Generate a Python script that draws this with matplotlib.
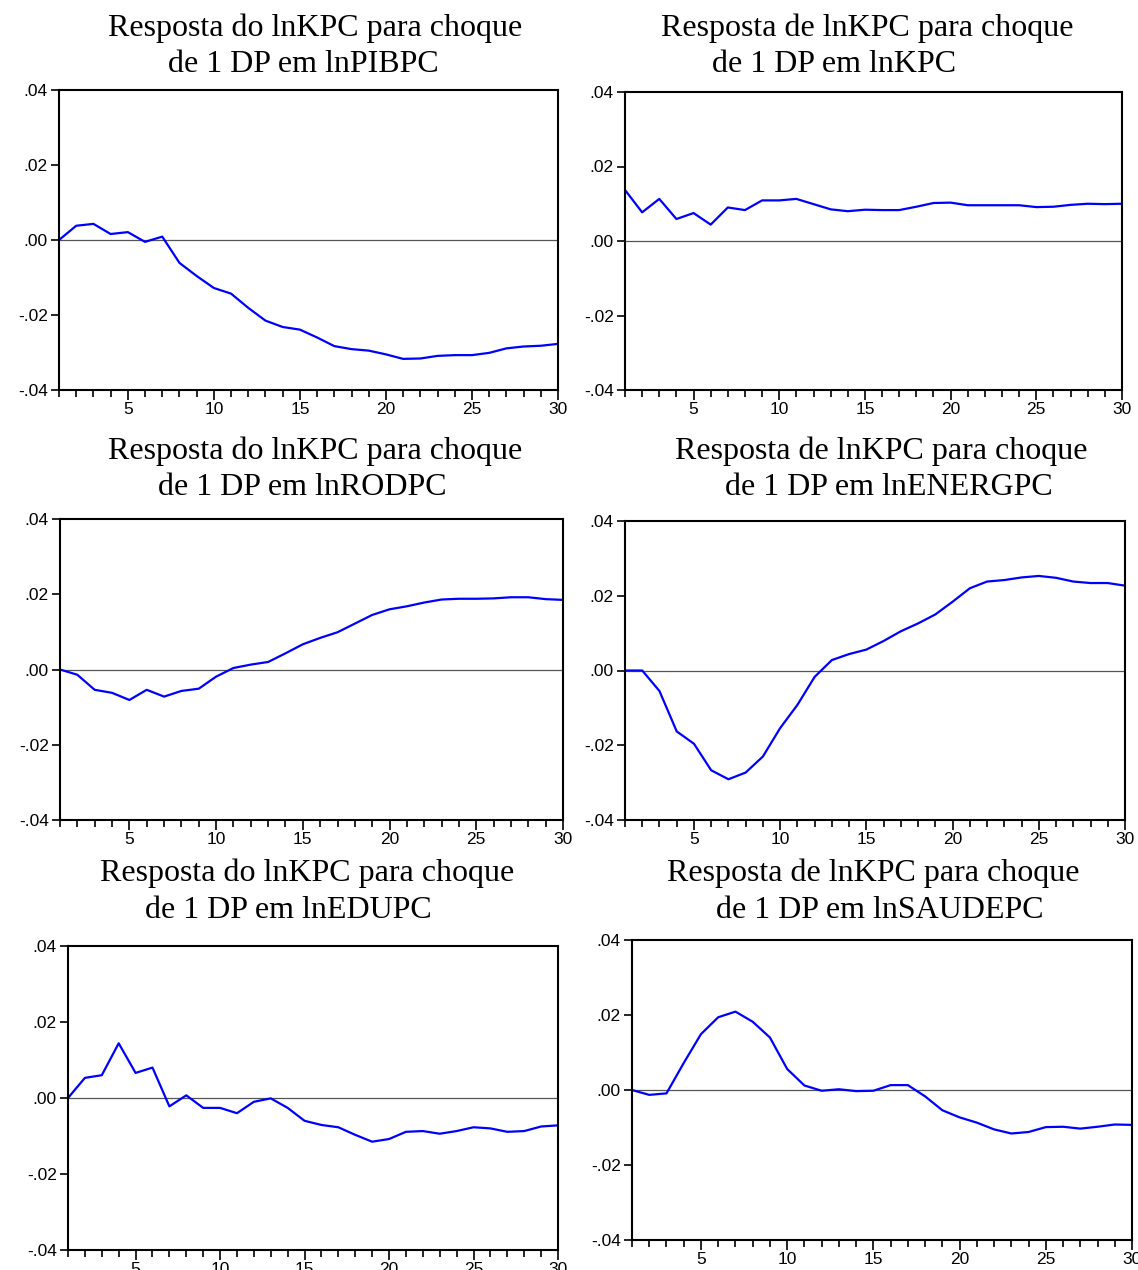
import matplotlib.pyplot as plt
from matplotlib.ticker import MultipleLocator

periods = list(range(1, 31))

pibpc = [0.0, 0.0038, 0.0043, 0.0016, 0.0021, -0.0005, 0.0009, -0.0061, -0.0096, -0.0128,
         -0.0143, -0.0181, -0.0215, -0.0232, -0.0239, -0.0260, -0.0283, -0.0291, -0.0295, -0.0305,
         -0.0317, -0.0316, -0.0309, -0.0307, -0.0307, -0.0301, -0.0289, -0.0284, -0.0282, -0.0277]
kpc = [0.0137, 0.0077, 0.0113, 0.0059, 0.0075, 0.0044, 0.0090, 0.0083, 0.0109, 0.0109,
       0.0113, 0.0099, 0.0085, 0.0080, 0.0084, 0.0083, 0.0083, 0.0092, 0.0102, 0.0103,
       0.0096, 0.0096, 0.0096, 0.0096, 0.0091, 0.0092, 0.0097, 0.0100, 0.0099, 0.0100]
rodpc = [0.0, -0.0014, -0.0054, -0.0062, -0.0081, -0.0054, -0.0072, -0.0057, -0.0051, -0.0019,
         0.0004, 0.0013, 0.0020, 0.0043, 0.0067, 0.0084, 0.0099, 0.0122, 0.0145, 0.0160,
         0.0168, 0.0178, 0.0186, 0.0188, 0.0188, 0.0189, 0.0192, 0.0192, 0.0187, 0.0185]
energpc = [0.0, 0.0, -0.0055, -0.0163, -0.0196, -0.0267, -0.0291, -0.0273, -0.0230, -0.0154,
           -0.0092, -0.0017, 0.0028, 0.0044, 0.0056, 0.0079, 0.0105, 0.0126, 0.0150, 0.0184,
           0.0220, 0.0238, 0.0242, 0.0249, 0.0253, 0.0248, 0.0238, 0.0234, 0.0234, 0.0227]
edupc = [0.0, 0.0053, 0.0060, 0.0144, 0.0066, 0.0080, -0.0022, 0.0007, -0.0026, -0.0026,
         -0.0040, -0.0010, -0.0001, -0.0026, -0.0060, -0.0071, -0.0077, -0.0097, -0.0115, -0.0108,
         -0.0089, -0.0087, -0.0094, -0.0087, -0.0077, -0.0080, -0.0089, -0.0087, -0.0075, -0.0072]
saudepc = [0.0, -0.0013, -0.0009, 0.0072, 0.0149, 0.0194, 0.0209, 0.0182, 0.0140, 0.0056,
           0.0012, -0.0002, 0.0002, -0.0003, -0.0002, 0.0013, 0.0013, -0.0017, -0.0054, -0.0073,
           -0.0087, -0.0105, -0.0116, -0.0112, -0.0099, -0.0098, -0.0103, -0.0098, -0.0092, -0.0093]

titles = [
    ("Resposta do lnKPC para choque", "de 1 DP em lnPIBPC"),
    ("Resposta de lnKPC para choque", "de 1 DP em lnKPC"),
    ("Resposta do lnKPC para choque", "de 1 DP em lnRODPC"),
    ("Resposta de lnKPC para choque", "de 1 DP em lnENERGPC"),
    ("Resposta do lnKPC para choque", "de 1 DP em lnEDUPC"),
    ("Resposta de lnKPC para choque", "de 1 DP em lnSAUDEPC"),
]
series = [pibpc, kpc, rodpc, energpc, edupc, saudepc]

W, H = 1138, 1270
# axes boxes in pixels: left, top, right, bottom
boxes = [(59, 90, 558, 390), (625, 92, 1122, 390),
         (60, 519, 563, 820), (625, 521, 1125, 820),
         (68, 946, 558, 1250), (632, 940, 1132, 1240)]
# title lines: left x of line 1, left x of line 2, y of line 1, y of line 2
title_pos = [(108, 168, 28, 64), (661, 712, 28, 64),
             (108, 158, 451, 488), (675, 725, 451, 488),
             (100, 145, 873, 910), (667, 716, 873, 910)]

fig = plt.figure(figsize=(W / 100, H / 100), dpi=100)

for vals, (t1, t2), (l, t, r, b), (x1, x2, y1, y2) in zip(series, titles, boxes, title_pos):
    ax = fig.add_axes([l / W, 1 - b / H, (r - l) / W, (b - t) / H])
    ax.plot(periods, vals, color="#0000ff", lw=1.6)
    ax.axhline(0, color="#555555", lw=0.9, zorder=1)
    ax.set_xlim(1, 30)
    ax.set_ylim(-0.04, 0.04)
    ax.set_yticks([-0.04, -0.02, 0.0, 0.02, 0.04])
    ax.set_yticklabels(["-.04", "-.02", ".00", ".02", ".04"])
    ax.set_xticks([5, 10, 15, 20, 25, 30])
    ax.xaxis.set_minor_locator(MultipleLocator(1))
    ax.tick_params(axis="both", which="both", direction="out", width=1.2, labelsize=12.5,
                   colors="black")
    ax.tick_params(axis="x", which="major", length=7, pad=2)
    ax.tick_params(axis="x", which="minor", length=5)
    ax.tick_params(axis="y", length=6, pad=2)
    for lab in ax.get_xticklabels() + ax.get_yticklabels():
        lab.set_family("Liberation Sans")
    for s in ax.spines.values():
        s.set_linewidth(1.5)
    fig.text(x1 / W, 1 - y1 / H, t1, family="Liberation Serif", fontsize=23,
             ha="left", va="center")
    fig.text(x2 / W, 1 - y2 / H, t2, family="Liberation Serif", fontsize=23,
             ha="left", va="center")

fig.savefig("out.png", dpi=100)
